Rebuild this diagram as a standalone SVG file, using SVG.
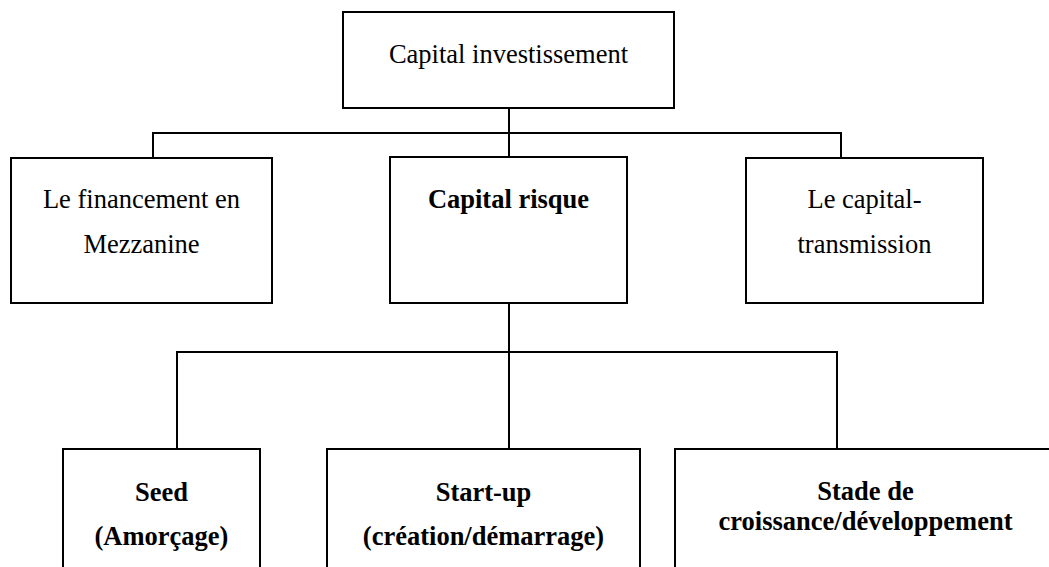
<svg xmlns="http://www.w3.org/2000/svg" width="1049" height="567" viewBox="0 0 1049 567">
<style>
.box{fill:#fff;stroke:#000;stroke-width:2}
.c{fill:none;stroke:#000;stroke-width:2}
text{font-family:"Liberation Serif","Times New Roman",serif;font-size:26.5px;fill:#000;text-anchor:middle}
.b{font-weight:bold}
</style>
<rect width="1049" height="567" fill="#fff"/>
<g id="connectors">
<path class="c" d="M509,108V133M153,158V133H841V158M509,133V157"/>
<path class="c" d="M509,303V449M177,449V352H837V449"/>
</g>
<g id="n-capital-investissement">
<rect class="box" x="343" y="12" width="331" height="96"/>
<text x="508.5" y="63">Capital investissement</text>
</g>
<g id="n-mezzanine">
<rect class="box" x="11" y="158" width="261" height="145"/>
<text x="141.5" y="208">Le financement en</text>
<text x="141.5" y="253">Mezzanine</text>
</g>
<g id="n-capital-risque">
<rect class="box" x="390" y="157" width="237" height="146"/>
<text class="b" x="508.5" y="208">Capital risque</text>
</g>
<g id="n-transmission">
<rect class="box" x="746" y="158" width="237" height="145"/>
<text x="864.5" y="208">Le capital-</text>
<text x="864.5" y="253">transmission</text>
</g>
<g id="n-seed">
<rect class="box" x="63" y="449" width="197" height="140"/>
<text class="b" x="161.5" y="501">Seed</text>
<text class="b" x="161.5" y="545">(Amorçage)</text>
</g>
<g id="n-startup">
<rect class="box" x="327" y="449" width="313" height="140"/>
<text class="b" x="483.5" y="501">Start-up</text>
<text class="b" x="483.5" y="545">(création/démarrage)</text>
</g>
<g id="n-croissance">
<rect class="box" x="675" y="449" width="390" height="140"/>
<text class="b" x="865.5" y="500">Stade de</text>
<text class="b" x="865.5" y="530">croissance/développement</text>
</g>
</svg>
